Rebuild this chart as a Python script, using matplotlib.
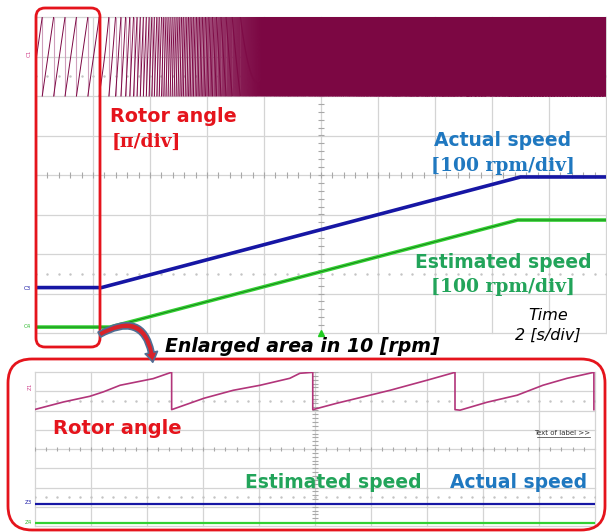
import numpy as np
import matplotlib.pyplot as plt
from matplotlib.patches import FancyBboxPatch, FancyArrowPatch

# ---- main capture, 2 s/div ----
actual_time_s = [0.0, 2.3, 17.0, 20.0]
actual_rpm = [10, 10, 290, 290]
est_time_s = [0.0, 2.6, 16.9, 20.0]
est_rpm = [10, 10, 281, 281]
pole_pairs = 15
angle0_rad = -0.3

# ---- enlarged capture at 10 rpm, 0.2 s/div ----
zoom_time_s = [0.0, 0.102, 0.196, 0.244, 0.304, 0.422, 0.488,
               0.488, 0.604, 0.708, 0.804, 0.910, 0.946, 0.992,
               0.992, 1.078, 1.196, 1.268, 1.400, 1.500,
               1.500, 1.518, 1.614, 1.722, 1.814, 1.900, 1.996,
               1.996]
zoom_angle_deg = [-170, -100, -47, -6, 56, 118, 178,
                  -172, -65, 9, 56, 121, 168, 177,
                  -172, -112, -37, 9, 103, 177,
                  -172, -177, -103, -37, 56, 121, 177,
                  -172]
zoom_speed_time_s = [0.0, 2.0]
zoom_actual_rpm = [10, 10]
zoom_est_rpm = [10, 10]

# channel positions (divisions) and scales
ANGLE_POS, ACT_POS, EST_POS = 3.0, -2.95, -3.95
RPM_PER_DIV = 100.0

W, H = 607, 532
GRID = '#d4d4d4'
RED = '#e5141c'
ROTOR_DARK = '#7c0743'
ROTOR_LIGHT = '#cfa0bc'
ROTOR_ZOOM = '#b2357a'
BLUE_TR = '#1616a4'
GREEN_TR = '#33d133'
BLUE_TXT = '#1f78c0'
GREEN_TXT = '#22a45a'

fig = plt.figure(figsize=(W / 100, H / 100), dpi=100)


def px_axes(x0, y0, x1, y1):
    return fig.add_axes([x0 / W, 1 - y1 / H, (x1 - x0) / W, (y1 - y0) / H])


def scope_grid(ax):
    ax.set_xlim(0, 10)
    ax.set_ylim(-4, 4)
    ax.axis('off')
    for i in range(11):
        ax.axvline(i, color=GRID, lw=0.9, zorder=0, clip_on=False)
    for j in range(-4, 5):
        ax.axhline(j, color=GRID, lw=0.9, zorder=0, clip_on=False)
    mx = np.arange(0, 10.01, 0.2)
    my = np.arange(-4, 4.01, 0.2)
    ax.vlines(mx, -0.08, 0.08, color='#a8a8a8', lw=0.8, zorder=0)
    ax.hlines(my, 4.95, 5.05, color='#a8a8a8', lw=0.8, zorder=0)
    for row in (2.5, -2.5):
        ax.plot(mx, np.full_like(mx, row), ls='none', marker='s', ms=0.7,
                color='#c4c4c4', zorder=0)


# ---- top scope ----
ax = px_axes(36, 17, 606, 333)
scope_grid(ax)

t = np.linspace(0, 20, 400001)
rpm = np.interp(t, actual_time_s, actual_rpm)
theta = angle0_rad + np.cumsum(rpm) * (t[1] - t[0]) / 60 * 2 * np.pi * pole_pairs
wrapped = np.mod(theta + np.pi, 2 * np.pi) - np.pi
wraps = np.where(np.diff(wrapped) < 0)[0]
xs = np.insert(t / 2, wraps + 1, np.nan)
ys = np.insert(wrapped / np.pi + ANGLE_POS, wraps + 1, np.nan)
ax.vlines(t[wraps] / 2, ANGLE_POS - 1, ANGLE_POS + 1, color=ROTOR_LIGHT, lw=0.8, zorder=2)
ax.plot(xs, ys, color=ROTOR_DARK, lw=0.7, zorder=3)

ax.plot(np.array(actual_time_s) / 2, np.array(actual_rpm) / RPM_PER_DIV + ACT_POS,
        color=BLUE_TR, lw=2.6, zorder=3)
ax.plot(np.array(est_time_s) / 2, np.array(est_rpm) / RPM_PER_DIV + EST_POS,
        color=GREEN_TR, lw=2.6, zorder=3)
ax.plot(np.array(est_time_s) / 2, np.array(est_rpm) / RPM_PER_DIV + EST_POS,
        color='#167a16', lw=0.6, zorder=4)
ax.plot([5], [-4], marker='^', ms=4, color='#22cc22', clip_on=False, zorder=5)

# ---- enlarged scope ----
bx = px_axes(35, 372, 595, 526)
scope_grid(bx)
bx.plot(np.array(zoom_time_s) / 0.2, np.array(zoom_angle_deg) / 180 + ANGLE_POS,
        color=ROTOR_ZOOM, lw=1.2, zorder=3)
bx.plot(np.array(zoom_speed_time_s) / 0.2, np.array(zoom_actual_rpm) / RPM_PER_DIV + ACT_POS,
        color=BLUE_TR, lw=1.6, zorder=3)
bx.plot(np.array(zoom_speed_time_s) / 0.2, np.array(zoom_est_rpm) / RPM_PER_DIV + EST_POS,
        color=GREEN_TR, lw=1.6, zorder=3)

# ---- annotations in pixel coordinates ----
ov = fig.add_axes([0, 0, 1, 1], zorder=10)
ov.set_xlim(0, W)
ov.set_ylim(H, 0)
ov.axis('off')

ov.add_patch(FancyBboxPatch((36, 8), 64, 339, boxstyle='round,pad=0,rounding_size=9',
                            fc='none', ec=RED, lw=2))
ov.add_patch(FancyBboxPatch((8, 359), 597, 171, boxstyle='round,pad=0,rounding_size=24',
                            fc='none', ec=RED, lw=2))
ov.add_patch(FancyArrowPatch((97, 336), (153, 365), connectionstyle='arc3,rad=-0.8',
                             arrowstyle='simple,head_length=7,head_width=9,tail_width=4',
                             fc='#d8232a', ec='#4f6f95', lw=1.2))

sans = 'DejaVu Sans'
serif = 'DejaVu Serif'
ov.text(110, 117, 'Rotor angle', color=RED, fontsize=13.8, fontweight='bold',
        family=sans, va='center')
ov.text(112, 142, '[π/div]', color=RED, fontsize=13.5, fontweight='bold',
        family=serif, va='center')
ov.text(503, 140, 'Actual speed', color=BLUE_TXT, fontsize=13.5, fontweight='bold',
        family=sans, ha='center', va='center')
ov.text(503, 166, '[100 rpm/div]', color=BLUE_TXT, fontsize=13.5, fontweight='bold',
        family=serif, ha='center', va='center')
ov.text(503, 263, 'Estimated speed', color=GREEN_TXT, fontsize=13.5, fontweight='bold',
        family=sans, ha='center', va='center')
ov.text(503, 287, '[100 rpm/div]', color=GREEN_TXT, fontsize=13.5, fontweight='bold',
        family=serif, ha='center', va='center')
ov.text(548, 315, 'Time', color='black', fontsize=11.5, style='italic',
        family=sans, ha='center', va='center')
ov.text(548, 335, '2 [s/div]', color='black', fontsize=11.5, style='italic',
        family=sans, ha='center', va='center')
ov.text(165, 346, 'Enlarged area in 10 [rpm]', color='black', fontsize=13.6,
        fontweight='bold', style='italic', family=sans, va='center')

ov.text(53, 428, 'Rotor angle', color=RED, fontsize=14, fontweight='bold',
        family=sans, va='center')
ov.text(333, 482, 'Estimated speed', color=GREEN_TXT, fontsize=13.5, fontweight='bold',
        family=sans, ha='center', va='center')
ov.text(519, 482, 'Actual speed', color=BLUE_TXT, fontsize=13.5, fontweight='bold',
        family=sans, ha='center', va='center')
ov.text(590, 433, 'Text of label >>', color='#333333', fontsize=5, family=sans,
        ha='right', va='center')
ov.plot([537, 590], [437, 437], color='#333333', lw=0.5)

# channel markers
for x, y, s, c, r in [(29, 53, 'C1', '#d0408a', 90), (27, 288, 'C3', BLUE_TR, 0),
                      (27, 327, 'C4', '#33bb33', 0), (30, 386, 'Z1', '#d0408a', 90),
                      (28, 503, 'Z3', BLUE_TR, 0), (28, 522, 'Z4', '#33bb33', 0)]:
    ov.text(x, y, s, color=c, fontsize=4, family=sans, rotation=r,
            ha='center', va='center')

fig.savefig('out.png', dpi=100)
